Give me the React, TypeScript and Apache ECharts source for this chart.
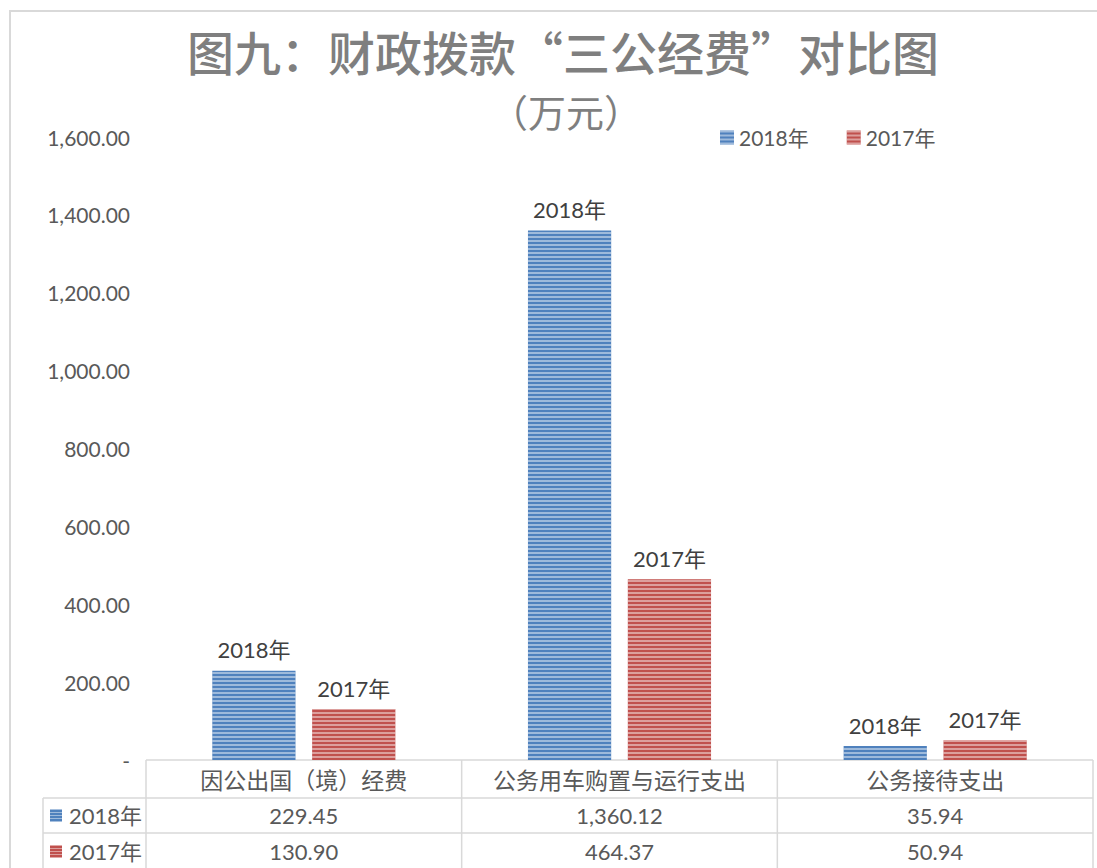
import React, { useEffect, useRef } from "react";
import * as echarts from "echarts";

const categories = ["因公出国（境）经费", "公务用车购置与运行支出", "公务接待支出"];
const seriesNames = ["2018年", "2017年"];
const values2018 = [229.45, 1360.12, 35.94];
const values2017 = [130.9, 464.37, 50.94];
const seriesValues = [values2018, values2017];
const seriesColors = ["#4f81bd", "#c0504d"];
const yMin = 0;
const yMax = 1600;
const yInterval = 200;
const titleText = "图九：财政拨款“三公经费”对比图";
const subTitleText = "（万元）";

const W = 1097;
const H = 868;
const gridLeft = 146;
const gridRight = 1093;
const axisY = 760;
const row1Y = 798;
const row2Y = 833;
const legendColX = 43;
const lineColor = "#d9d9d9";
const textColor = "#595959";
const latin = "Lato, 'Noto Sans CJK SC', sans-serif";
const cjk = "'Noto Sans CJK SC', sans-serif";

const fmt = (v: number) =>
  v.toLocaleString("en-US", { minimumFractionDigits: 2, maximumFractionDigits: 2 });

const decal = {
  symbol: "rect",
  symbolSize: 1,
  dashArrayX: [1, 0],
  dashArrayY: [1.6, 1.8],
  rotation: 0,
  color: "rgba(255,255,255,0.45)",
};

export default function App() {
  const ref = useRef<HTMLDivElement>(null);
  useEffect(() => {
    document.body.style.margin = "0";
    const chart = echarts.init(ref.current!, null, { renderer: "svg" });

    const colW = (gridRight - gridLeft) / categories.length;
    const graphics: any[] = [];
    graphics.push({
      type: "polyline",
      shape: { points: [[10, H], [10, 11], [W, 11]] },
      style: { stroke: lineColor, lineWidth: 2, fill: null },
      silent: true,
    });
    const hLines: [number, number, number][] = [
      [gridLeft, gridRight, axisY],
      [legendColX, gridRight, row1Y],
      [legendColX, gridRight, row2Y],
    ];
    hLines.forEach(([x1, x2, y]) =>
      graphics.push({
        type: "line",
        shape: { x1, y1: y, x2, y2: y },
        style: { stroke: lineColor, lineWidth: 1.5 },
        silent: true,
      })
    );
    graphics.push({
      type: "line",
      shape: { x1: legendColX, y1: row1Y, x2: legendColX, y2: H },
      style: { stroke: lineColor, lineWidth: 1.5 },
      silent: true,
    });
    for (let i = 0; i <= categories.length; i++) {
      const x = gridLeft + colW * i;
      graphics.push({
        type: "line",
        shape: { x1: x, y1: axisY, x2: x, y2: H },
        style: { stroke: lineColor, lineWidth: 1.5 },
        silent: true,
      });
    }
    const rowCenters = [(row1Y + row2Y) / 2, (row2Y + H) / 2 + 1];
    seriesNames.forEach((name, si) => {
      const cy = rowCenters[si];
      graphics.push({
        type: "rect",
        shape: { x: 50, y: cy - 6, width: 12, height: 12 },
        style: { fill: seriesColors[si] },
        silent: true,
      });
      [cy - 3, cy, cy + 3].forEach((ly) =>
        graphics.push({
          type: "line",
          shape: { x1: 50, y1: ly, x2: 62, y2: ly },
          style: { stroke: "rgba(255,255,255,0.45)", lineWidth: 1 },
          silent: true,
        })
      );
      graphics.push({
        type: "text",
        x: 69,
        y: cy,
        style: {
          text: name,
          fill: textColor,
          font: `22px ${latin}`,
          textVerticalAlign: "middle",
        },
        silent: true,
      });
      seriesValues[si].forEach((v, ci) => {
        graphics.push({
          type: "text",
          x: gridLeft + colW * (ci + 0.5),
          y: cy,
          style: {
            text: fmt(v),
            fill: textColor,
            font: `22px ${latin}`,
            textAlign: "center",
            textVerticalAlign: "middle",
          },
          silent: true,
        });
      });
    });

    chart.setOption({
      animation: false,
      backgroundColor: "#ffffff",
      title: [
        {
          text: titleText,
          left: 558,
          top: 22,
          textAlign: "center",
          textStyle: {
            fontSize: 47,
            fontWeight: 500,
            color: "#7f7f7f",
            fontFamily: cjk,
          },
        },
        {
          text: subTitleText,
          left: 561,
          top: 86,
          textAlign: "center",
          textStyle: {
            fontSize: 38,
            fontWeight: "normal",
            color: "#7f7f7f",
            fontFamily: cjk,
          },
        },
      ],
      legend: {
        left: 715,
        top: 122,
        itemWidth: 14,
        itemHeight: 14,
        itemGap: 38,
        icon: "rect",
        textStyle: { fontSize: 21, color: textColor, fontFamily: latin },
        data: seriesNames,
      },
      grid: {
        left: gridLeft,
        right: W - gridRight,
        top: 137,
        bottom: H - axisY,
        containLabel: false,
      },
      xAxis: {
        type: "category",
        data: categories,
        axisLine: { show: false },
        axisTick: { show: false },
        axisLabel: {
          margin: 7,
          fontSize: 23,
          color: textColor,
          fontFamily: cjk,
          interval: 0,
        },
      },
      yAxis: {
        type: "value",
        min: yMin,
        max: yMax,
        interval: yInterval,
        splitLine: { show: false },
        axisLine: { show: false },
        axisTick: { show: false },
        axisLabel: {
          margin: 16,
          fontSize: 21,
          color: textColor,
          fontFamily: latin,
          formatter: (v: number) => (v === 0 ? "-" : fmt(v)),
        },
      },
      series: seriesNames.map((name, si) => ({
        name,
        type: "bar",
        data: seriesValues[si],
        barCategoryGap: "42%",
        barGap: "20%",
        itemStyle: { color: seriesColors[si], decal },
        label: {
          show: true,
          position: "top",
          distance: 10,
          formatter: "{a}",
          fontSize: 22,
          color: "#404040",
          fontFamily: latin,
        },
      })),
      graphic: graphics,
    });
    return () => chart.dispose();
  }, []);
  return <div ref={ref} style={{ width: W, height: H }} />;
}
